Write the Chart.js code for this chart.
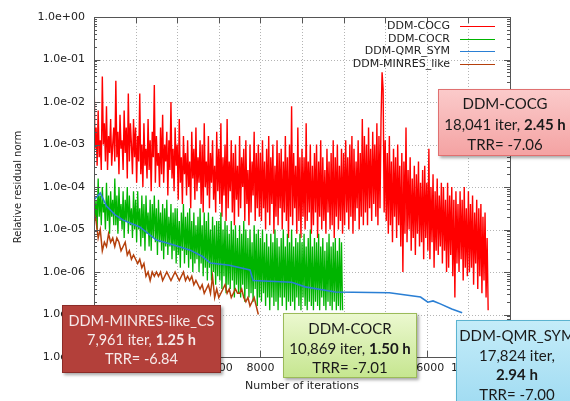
<!DOCTYPE html>
<html>
<head>
<meta charset="utf-8">
<script src="https://cdn.jsdelivr.net/npm/chart.js@4.4.1/dist/chart.umd.min.js"></script>
<style>
  html, body { margin: 0; padding: 0; background: #fff; }
  #wrap { position: relative; width: 570px; height: 401px; overflow: hidden; }
  .note {
    position: absolute; box-sizing: border-box; text-align: center;
    font-family: Lato, "Open Sans", sans-serif; font-size: 15px; color: #1a1a1a;
    box-shadow: 2px 2px 3px rgba(0,0,0,0.35); white-space: nowrap;
  }
  .note b { font-weight: 700; }
  #cocg { left: 438px; top: 89px; width: 134px; height: 67px; padding-top: 3px; line-height: 20.5px;
    background: linear-gradient(#fbcaca, #f4a3a3); border: 1px solid #e07070; }
  #minres { left: 62px; top: 305px; width: 159px; height: 68px; padding-top: 5px; line-height: 19px;
    background: #b3403a; border: 1px solid #8c2b27; color: #f6eaea; font-size: 14.5px; }
  #cocr { left: 283px; top: 313px; width: 134px; height: 65px; padding-top: 5px; line-height: 19.5px;
    background: linear-gradient(#ebf8cf, #c6e690); border: 1px solid #9bbb59; }
  #qmr { left: 456px; top: 320px; width: 122px; height: 95px; padding-top: 5px; line-height: 19.5px;
    background: linear-gradient(#c4ecf9, #9ddaf1); border: 1px solid #5bb3d0; }
</style>
</head>
<body>
<div id="wrap">
  <canvas id="chart" width="570" height="401"></canvas>
  <div class="note" id="cocg">DDM-COCG<br>18,041 iter, <b>2.45 h</b><br>TRR= -7.06</div>
  <div class="note" id="minres">DDM-MINRES-like_CS<br>7,961 iter, <b>1.25 h</b><br>TRR= -6.84</div>
  <div class="note" id="cocr">DDM-COCR<br>10,869 iter, <b>1.50 h</b><br>TRR= -7.01</div>
  <div class="note" id="qmr">DDM-QMR_SYM<br>17,824 iter,<br><b>2.94 h</b><br>TRR= -7.00</div>
</div>
<script>
// residual norms are stored as log10 values
// COCG and COCR sampled every 50 iterations, MINRES every 100
const denseStep = 50;
const minresStep = 100;
const seriesNames = ["DDM-COCG", "DDM-COCR", "DDM-QMR_SYM", "DDM-MINRES_like"];
const seriesColors = ["#ff0000", "#00b400", "#2a7fd4", "#b5400c"];

const cocgLog = [
  -1.3, -3.1, -2.6, -3.5, -2.2, -3.3, -2.9, -3.6, -1.4, -3.0,
  -2.5, -3.4, -2.1, -3.6, -2.8, -3.2, -2.4, -3.5, -3.0, -2.6,
  -3.4, -1.5, -3.3, -2.7, -3.7, -2.3, -3.1, -2.9, -3.6, -2.2,
  -3.2, -2.6, -3.8, -1.8, -3.4, -2.5, -3.0, -3.7, -2.4, -3.3,
  -2.6, -3.9, -2.8, -3.4, -1.8, -3.7, -3.0, -4.0, -2.5, -3.5,
  -3.1, -3.8, -2.4, -3.6, -2.9, -4.1, -2.7, -3.3, -1.6, -3.9,
  -2.8, -3.5, -3.2, -4.0, -2.6, -3.7, -2.3, -3.9, -3.0, -3.4,
  -2.7, -4.2, -2.9, -3.6, -2.0, -3.8, -3.1, -4.1, -2.6, -3.5,
  -3.0, -4.3, -2.4, -3.9, -3.3, -4.4, -2.8, -3.7, -3.2, -4.2,
  -2.9, -4.0, -3.4, -4.5, -2.7, -3.8, -3.1, -4.3, -2.6, -4.1,
  -3.3, -3.9, -2.9, -4.4, -3.0, -4.6, -2.5, -4.0, -3.4, -4.2,
  -2.8, -4.5, -3.2, -3.9, -2.9, -4.3, -3.5, -4.6, -2.7, -4.1,
  -3.1, -4.4, -2.5, -4.7, -3.3, -4.2, -3.0, -4.8, -2.4, -4.5,
  -3.4, -4.1, -2.9, -4.6, -3.2, -4.9, -3.0, -4.3, -3.5, -4.7,
  -2.8, -4.5, -3.3, -4.0, -3.1, -4.8, -2.9, -4.4, -3.6, -4.9,
  -3.0, -4.6, -3.4, -4.2, -2.7, -4.8, -3.2, -4.5, -3.0, -4.7,
  -3.2, -4.8, -2.9, -4.5, -3.4, -5.0, -3.1, -4.6, -2.8, -4.9,
  -3.3, -4.4, -3.0, -5.1, -3.5, -4.7, -2.9, -4.9, -3.2, -4.5,
  -3.1, -5.0, -3.4, -4.6, -2.8, -4.8, -3.3, -5.2, -3.0, -4.7,
  -2.1, -4.9, -3.2, -4.5, -3.5, -5.1, -2.6, -4.8, -3.3, -5.2,
  -3.1, -4.7, -3.3, -5.0, -2.5, -4.8, -3.4, -4.6, -3.0, -5.1,
  -3.5, -4.9, -3.2, -4.6, -3.0, -5.2, -3.4, -4.7, -2.9, -5.0,
  -3.3, -4.8, -3.6, -5.1, -3.1, -4.6, -3.4, -5.0, -3.2, -4.9,
  -2.9, -5.2, -3.3, -4.7, -3.0, -5.0, -3.5, -4.8, -3.1, -5.1,
  -3.2, -4.9, -2.9, -4.6, -3.3, -5.0, -3.0, -4.7, -2.8, -5.1,
  -3.1, -4.8, -3.4, -4.5, -2.9, -5.0, -3.2, -4.7, -2.4, -4.9,
  -2.8, -4.6, -3.0, -4.9, -2.6, -4.5, -3.1, -4.8, -2.7, -4.4,
  -3.0, -4.7, -2.5, -4.9, -2.8, -4.5, -2.4, -1.3, -1.7, -4.6,
  -2.9, -4.8, -3.2, -5.1, -2.8, -4.9, -3.4, -5.3, -3.1, -4.7,
  -3.3, -5.2, -3.0, -4.9, -3.5, -5.4, -3.2, -6.0, -3.4, -5.1,
  -2.6, -5.3, -3.6, -5.0, -3.3, -5.5, -3.8, -5.2, -3.5, -5.6,
  -3.7, -5.1, -3.4, -5.4, -3.9, -5.3, -3.6, -5.7, -3.5, -5.2,
  -3.9, -5.5, -3.1, -5.7, -4.0, -5.3, -3.7, -5.9, -4.1, -5.5,
  -3.8, -5.6, -4.2, -5.4, -3.9, -5.8, -4.0, -5.5, -4.3, -6.0,
  -3.9, -5.9, -4.2, -5.6, -4.0, -6.1, -4.3, -6.6, -4.1, -5.8,
  -4.4, -6.0, -4.1, -5.7, -4.3, -6.2, -4.0, -5.9, -4.5, -6.1,
  -4.1, -6.0, -4.4, -5.9, -4.2, -6.3, -4.6, -5.8, -4.3, -6.4,
  -4.5, -6.1, -4.4, -6.5, -4.7, -6.2, -4.6, -6.6, -5.2, -6.9
];

const cocrLog = [
  -4.0, -4.8, -4.3, -5.0, -3.8, -4.7, -4.2, -4.9, -4.0, -4.6,
  -4.4, -5.0, -3.9, -4.8, -4.2, -5.1, -4.1, -4.7, -4.3, -4.9,
  -3.8, -4.9, -4.2, -5.1, -4.0, -4.8, -4.4, -5.0, -4.1, -5.2,
  -4.3, -4.8, -4.0, -5.1, -4.2, -4.9, -4.5, -5.2, -4.1, -5.0,
  -4.3, -5.3, -4.1, -5.0, -4.5, -5.4, -4.2, -5.2, -4.4, -5.5,
  -4.2, -5.1, -4.6, -5.4, -4.3, -5.5, -4.4, -5.2, -4.2, -5.3,
  -4.5, -5.6, -4.3, -5.3, -4.6, -5.5, -4.4, -5.7, -4.5, -5.4,
  -4.3, -5.6, -4.7, -5.4, -4.4, -5.7, -4.6, -5.5, -4.5, -5.8,
  -4.5, -5.6, -4.8, -5.9, -4.6, -5.5, -4.4, -5.8, -4.7, -5.6,
  -4.6, -5.9, -4.5, -5.7, -4.8, -6.0, -4.6, -5.8, -4.9, -5.7,
  -4.7, -6.0, -4.5, -5.8, -4.9, -6.1, -4.6, -5.9, -4.8, -6.2,
  -4.6, -5.9, -5.0, -6.2, -4.7, -6.0, -4.9, -6.3, -4.8, -6.1,
  -4.8, -6.2, -4.6, -6.4, -5.0, -6.1, -4.8, -6.5, -4.9, -6.3,
  -5.1, -6.4, -4.8, -6.2, -5.0, -6.6, -4.9, -6.3, -5.2, -6.5,
  -4.9, -6.6, -5.1, -6.3, -4.8, -6.7, -5.0, -6.4, -5.2, -6.6,
  -5.0, -6.5, -5.3, -6.7, -4.9, -6.4, -5.1, -6.8, -5.0, -6.6,
  -5.2, -6.7, -5.0, -6.5, -5.3, -6.8, -5.1, -6.6, -5.4, -6.9,
  -5.1, -6.6, -5.3, -6.8, -5.0, -6.7, -5.2, -6.9, -5.4, -6.6,
  -5.2, -6.8, -5.0, -6.6, -5.4, -6.9, -5.1, -6.7, -5.3, -6.8,
  -5.0, -6.7, -5.4, -6.9, -5.2, -6.6, -5.3, -6.8, -5.1, -6.9,
  -5.3, -6.6, -5.1, -6.8, -5.4, -6.9, -5.2, -6.7, -5.0, -6.8,
  -5.4, -6.9, -5.2, -6.7, -5.3, -6.8, -5.1, -6.9, -5.4, -6.6,
  -5.2, -6.8, -5.5, -6.9, -5.3, -6.7, -5.1, -6.8, -5.4, -6.9,
  -5.3, -6.7, -5.2, -6.9, -5.5, -6.8, -5.2, -6.9, -5.3, -6.9
];

const minresLog = [
  -4.6, -4.8, -5.2, -5.0, -5.5, -5.3, -5.4, -5.1, -5.3, -5.2,
  -5.4, -5.2, -5.3, -5.5, -5.4, -5.3, -5.6, -5.5, -5.7, -5.6,
  -5.7, -5.8, -5.7, -5.9, -5.8, -6.1, -6.0, -6.2, -6.0, -6.1,
  -6.0, -6.1, -6.0, -6.2, -6.1, -6.0, -6.1, -6.2, -6.1, -6.0,
  -6.1, -6.2, -6.1, -6.0, -6.2, -6.1, -6.2, -6.1, -6.3, -6.2,
  -6.3, -6.4, -6.3, -6.5, -6.4, -6.3, -6.5, -6.1, -6.6, -6.4,
  -6.6, -6.5, -6.4, -6.3, -6.5, -6.4, -6.6, -6.5, -6.4, -6.5,
  -6.5, -6.4, -6.6, -6.7, -6.6, -6.8, -6.7, -6.6, -6.8, -7.0
];

// QMR_SYM is smooth, so it is kept as (iteration, log10 residual) pairs
const qmrIter = [0, 200, 300, 600, 1000, 1400, 2200, 3000, 3800, 4600, 5200, 5600, 6500,
  7500, 7650, 9500, 10150, 11600, 14200, 15700, 16050, 16300, 16650, 17200, 17700];
const qmrLog = [-4.3, -4.2, -4.14, -4.45, -4.65, -4.78, -4.94, -5.25, -5.36, -5.48, -5.63, -5.79, -5.84,
  -5.95, -6.2, -6.24, -6.35, -6.47, -6.49, -6.59, -6.71, -6.68, -6.75, -6.87, -6.96];

const xTicks = [0, 2000, 4000, 6000, 8000, 10000, 12000, 14000, 16000, 18000, 20000];
const yDecades = [1e-8, 1e-7, 1e-6, 1e-5, 1e-4, 1e-3, 1e-2, 1e-1, 1];

const stepped = (arr, step) => arr.map((v, i) => ({ x: i * step, y: Math.pow(10, v) }));
const paired = (xs, ys) => xs.map((x, i) => ({ x: x, y: Math.pow(10, ys[i]) }));

function expLabel(v) {
  const e = Math.round(Math.log10(v));
  return "1.0e" + (e < 0 ? "-" : "+") + String(Math.abs(e)).padStart(2, "0");
}

const axisFont = { family: "'DejaVu Sans', sans-serif", size: 11 };

// dotted grid under the data
const gridPlugin = {
  id: "dotgrid",
  beforeDatasetsDraw(chart) {
    const { ctx, chartArea: a, scales } = chart;
    ctx.save();
    ctx.strokeStyle = "#b4b4b4";
    ctx.lineWidth = 1;
    ctx.setLineDash([1, 2]);
    ctx.beginPath();
    xTicks.forEach(t => {
      const x = Math.round(scales.x.getPixelForValue(t)) + 0.5;
      ctx.moveTo(x, a.top); ctx.lineTo(x, a.bottom);
    });
    yDecades.forEach(d => {
      const y = Math.round(scales.y.getPixelForValue(d)) + 0.5;
      ctx.moveTo(a.left, y); ctx.lineTo(a.right, y);
    });
    ctx.stroke();
    ctx.restore();
  }
};

// frame, inward tics and the gnuplot-like key
const framePlugin = {
  id: "frame",
  afterDatasetsDraw(chart) {
    const { ctx, chartArea: a, scales } = chart;
    ctx.save();
    ctx.strokeStyle = "#555";
    ctx.lineWidth = 1;
    ctx.beginPath();
    yDecades.forEach(d => {
      for (let k = 1; k < 10; k++) {
        const v = d * k;
        if (v > 1) break;
        const y = Math.round(scales.y.getPixelForValue(v)) + 0.5;
        const len = k === 1 ? 6 : 3;
        ctx.moveTo(a.left, y); ctx.lineTo(a.left + len, y);
        ctx.moveTo(a.right, y); ctx.lineTo(a.right - len, y);
      }
    });
    xTicks.forEach(t => {
      const x = Math.round(scales.x.getPixelForValue(t)) + 0.5;
      ctx.moveTo(x, a.bottom); ctx.lineTo(x, a.bottom - 6);
      ctx.moveTo(x, a.top); ctx.lineTo(x, a.top + 6);
    });
    ctx.stroke();
    ctx.strokeRect(Math.round(a.left) + 0.5, Math.round(a.top) + 0.5,
      Math.round(a.right - a.left), Math.round(a.bottom - a.top));

    ctx.font = "11px 'DejaVu Sans', sans-serif";
    ctx.textAlign = "right";
    ctx.textBaseline = "middle";
    seriesNames.forEach((name, i) => {
      const y = a.top + 9 + i * 12.7;
      ctx.fillStyle = "#222";
      ctx.fillText(name, a.right - 60, y);
      ctx.strokeStyle = seriesColors[i];
      ctx.lineWidth = 1;
      ctx.beginPath();
      ctx.moveTo(a.right - 50, Math.round(y) + 0.5);
      ctx.lineTo(a.right - 15, Math.round(y) + 0.5);
      ctx.stroke();
    });
    ctx.restore();
  }
};

new Chart(document.getElementById("chart"), {
  type: "line",
  data: {
    datasets: [
      { label: seriesNames[0], data: stepped(cocgLog, denseStep), borderColor: seriesColors[0], borderWidth: 1.4, order: 4 },
      { label: seriesNames[1], data: stepped(cocrLog, denseStep), borderColor: seriesColors[1], borderWidth: 1.3, order: 3 },
      { label: seriesNames[2], data: paired(qmrIter, qmrLog), borderColor: seriesColors[2], borderWidth: 1.6, order: 2 },
      { label: seriesNames[3], data: stepped(minresLog, minresStep), borderColor: seriesColors[3], borderWidth: 1.5, order: 1 }
    ]
  },
  options: {
    responsive: false,
    animation: false,
    events: [],
    elements: { point: { radius: 0 }, line: { tension: 0 } },
    layout: { padding: { left: 0, right: 60, top: 17, bottom: 4 } },
    plugins: { legend: { display: false }, tooltip: { enabled: false } },
    scales: {
      x: {
        type: "linear", min: 0, max: 20000,
        afterBuildTicks: s => { s.ticks = xTicks.map(v => ({ value: v })); },
        afterFit: s => { s.height = 40; },
        grid: { display: false, drawTicks: false },
        border: { display: false },
        ticks: { padding: 5, color: "#222", font: axisFont, maxRotation: 0, callback: v => String(v) },
        title: { display: true, text: "Number of iterations", color: "#222", font: axisFont, padding: { top: 0, bottom: 4 } }
      },
      y: {
        type: "logarithmic", min: 1e-8, max: 1,
        afterBuildTicks: s => { s.ticks = yDecades.map(v => ({ value: v })); },
        afterFit: s => { s.width = 94; },
        grid: { display: false, drawTicks: false },
        border: { display: false },
        ticks: { padding: 9, color: "#222", font: axisFont, callback: v => expLabel(v) },
        title: { display: true, text: "Relative residual norm", color: "#222",
          font: { family: "'DejaVu Sans', sans-serif", size: 10 }, padding: { top: 12, bottom: 0 } }
      }
    }
  },
  plugins: [gridPlugin, framePlugin]
});
</script>
</body>
</html>
